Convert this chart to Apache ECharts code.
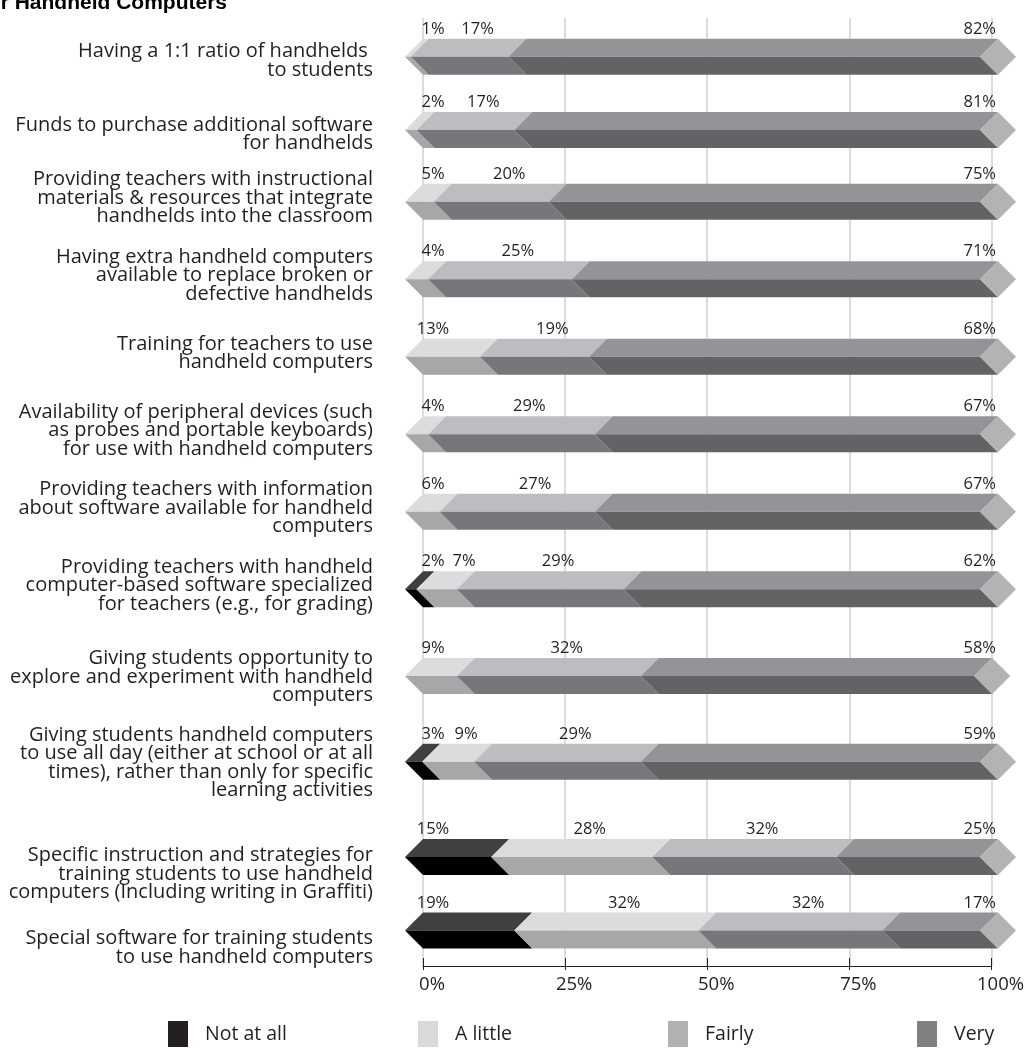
<!DOCTYPE html>
<html>
<head>
<meta charset="utf-8">
<script src="https://cdn.jsdelivr.net/npm/echarts@6/dist/echarts.min.js"></script>
<style>
  html, body { margin: 0; padding: 0; background: #ffffff; overflow: hidden; }
  #chart { width: 1027px; height: 1048px; }
</style>
</head>
<body>
<div id="chart"></div>
<script>
// Survey items (row labels, top to bottom)
const categories = [
  "Having a 1:1 ratio of handhelds \nto students",
  "Funds to purchase additional software\nfor handhelds",
  "Providing teachers with instructional\nmaterials & resources that integrate\nhandhelds into the classroom",
  "Having extra handheld computers\navailable to replace broken or\ndefective handhelds",
  "Training for teachers to use\nhandheld computers",
  "Availability of peripheral devices (such\nas probes and portable keyboards)\nfor use with handheld computers",
  "Providing teachers with information\nabout software available for handheld\ncomputers",
  "Providing teachers with handheld\ncomputer-based software specialized\nfor teachers (e.g., for grading)",
  "Giving students opportunity to\nexplore and experiment with handheld\ncomputers",
  "Giving students handheld computers\nto use all day (either at school or at all\ntimes), rather than only for specific\nlearning activities",
  "Specific instruction and strategies for\ntraining students to use handheld\ncomputers (Including writing in Graffiti)",
  "Special software for training students\nto use handheld computers"
];

// Response shares in percent, one array per answer
const notAtAll = [0, 0, 0, 0, 0, 0, 0, 2, 0, 3, 15, 19];
const aLittle  = [1, 2, 5, 4, 13, 4, 6, 7, 9, 9, 28, 32];
const fairly   = [17, 17, 20, 25, 19, 29, 27, 29, 32, 29, 32, 32];
const very     = [82, 81, 75, 71, 68, 67, 67, 62, 58, 59, 25, 17];

const seriesNames = ["Not at all", "A little", "Fairly", "Very"];
const axisTicks = [0, 25, 50, 75, 100];

const groups = [notAtAll, aLittle, fairly, very];

// Shaded two-tone fills (upper face / lower face) and legend swatches
const TOP_FILL = ["#404041", "#dcdcde", "#bcbdc0", "#939497"];
const BOT_FILL = ["#000000", "#a7a7aa", "#77777b", "#636366"];
const SWATCH   = ["#231f20", "#d9d9d9", "#b1b1b1", "#808083"];
const CAP_FILL = "#b3b3b4";
const TEXT_COLOR = "#231f20";
const FONT = "'Open Sans', 'Noto Sans', sans-serif";
const VALUE_FONT_SIZE = 16.5;
const BAR_HALF = 18;     // half height of a bar, px
const SLANT = 18;        // horizontal depth of the chevron joints, px

// Row blocks: each block is its own grid band so the item spacing can vary;
// labelShift nudges the item text down (+) or up (-) within its band
const blocks = [
  { first: 0,  count: 2, top: 20.1,  band: 73.3, labelShift: 4 },
  { first: 2,  count: 6, top: 163.0, band: 77.5, labelShift: -3.5 },
  { first: 8,  count: 2, top: 633.2, band: 85.7, labelShift: 1 },
  { first: 10, count: 2, top: 820.3, band: 73.5, labelShift: 17 }
];

const measureCtx = document.createElement("canvas").getContext("2d");
function textWidth(t) {
  measureCtx.font = VALUE_FONT_SIZE + "px " + FONT;
  return measureCtx.measureText(t).width;
}

// Position of each percentage label above a row
function rowLabels(row, localRow, api) {
  const segs = [];
  let acc = 0;
  groups.forEach((g, k) => {
    const v = g[row];
    if (v > 0) segs.push({ k, s: acc, e: acc + v, v });
    acc += v;
  });
  const out = {};
  let prevRight = -Infinity;
  const axisEnd = api.coord([axisTicks[axisTicks.length - 1], localRow])[0];
  segs.forEach((sg, j) => {
    const text = sg.v + "%";
    const w = textWidth(text);
    const xs = api.coord([sg.s, localRow])[0];
    const xe = api.coord([sg.e, localRow])[0];
    let cx;
    if (j === segs.length - 1 && j > 0) {
      cx = axisEnd - 2 - w / 2;
    } else if (j === 0) {
      cx = xs + 10;
    } else {
      cx = (xs + xe) / 2;
      if (cx - w / 2 < prevRight + 8) cx = prevRight + 8 + w / 2;
    }
    prevRight = cx + w / 2;
    out[sg.k] = { cx, text };
  });
  return out;
}

function segmentRenderer(k, first) {
  return function (params, api) {
    const localRow = api.value(0);
    const s = api.value(1);
    const e = api.value(2);
    const v = api.value(3);
    if (!v) return;
    const mid = api.coord([0, localRow])[1];
    const top = mid - BAR_HALF, bot = mid + BAR_HALF;
    const xs = api.coord([s, localRow])[0];
    const xe = api.coord([e, localRow])[0];
    const d = SLANT;
    const lb = rowLabels(first + localRow, localRow, api)[k];
    return {
      type: "group",
      children: [
        {
          type: "polygon",
          shape: { points: [[xs, top], [xe, top], [xe - d, mid], [xs - d, mid]] },
          style: { fill: TOP_FILL[k] }
        },
        {
          type: "polygon",
          shape: { points: [[xs - d, mid], [xe - d, mid], [xe, bot], [xs, bot]] },
          style: { fill: BOT_FILL[k] }
        },
        {
          type: "text",
          style: {
            text: lb.text, x: lb.cx, y: top - 1,
            align: "center", verticalAlign: "bottom",
            fontSize: VALUE_FONT_SIZE, fontFamily: FONT, fill: TEXT_COLOR
          }
        }
      ]
    };
  };
}

function capRenderer(params, api) {
  const localRow = api.value(0);
  const total = api.value(1);
  const p = api.coord([total, localRow]);
  const x = p[0], mid = p[1];
  const d = SLANT;
  return {
    type: "polygon",
    shape: { points: [[x - d, mid], [x, mid - BAR_HALF], [x + d, mid], [x, mid + BAR_HALF]] },
    style: { fill: CAP_FILL }
  };
}

// Shift a centred multi-line label by adding a spacer line above or below it
function shiftedLabel(shift) {
  return function (value) {
    if (shift > 0) return "{gap| }\n" + value;
    if (shift < 0) return value + "\n{gap| }";
    return value;
  };
}

const grids = [];
const xAxes = [];
const yAxes = [];
const series = [];

blocks.forEach((b, bi) => {
  grids.push({ left: 423, right: 29, top: b.top, height: b.count * b.band });
  xAxes.push({
    gridIndex: bi, type: "value",
    min: axisTicks[0], max: axisTicks[axisTicks.length - 1], interval: 25,
    show: false
  });
  const gapH = Math.abs(b.labelShift) * 2;
  yAxes.push({
    gridIndex: bi,
    type: "category",
    data: categories.slice(b.first, b.first + b.count),
    inverse: true,
    axisLine: { show: false },
    axisTick: { show: false },
    splitLine: { show: false },
    axisLabel: {
      interval: 0,
      fontSize: 20,
      lineHeight: 18.5,
      color: TEXT_COLOR,
      fontFamily: FONT,
      align: "right",
      margin: 50,
      formatter: shiftedLabel(b.labelShift),
      rich: {
        gap: { fontSize: 1, lineHeight: gapH, height: gapH }
      }
    }
  });
  groups.forEach((g, k) => {
    const data = [];
    for (let r = 0; r < b.count; r++) {
      const i = b.first + r;
      let start = 0;
      for (let j = 0; j < k; j++) start += groups[j][i];
      data.push([r, start, start + g[i], g[i]]);
    }
    series.push({
      name: seriesNames[k],
      type: "custom",
      xAxisIndex: bi,
      yAxisIndex: bi,
      renderItem: segmentRenderer(k, b.first),
      itemStyle: { color: SWATCH[k] },
      encode: { x: [1, 2], y: 0 },
      data: data,
      z: 3
    });
  });
  const capData = [];
  for (let r = 0; r < b.count; r++) {
    const i = b.first + r;
    capData.push([r, groups.reduce((a, g) => a + g[i], 0)]);
  }
  series.push({
    name: "cap",
    type: "custom",
    xAxisIndex: bi,
    yAxisIndex: bi,
    renderItem: capRenderer,
    encode: { x: 1, y: 0 },
    data: capData,
    z: 3
  });
});

// Full-height frame carrying the percentage axis and its grid lines
const frameIndex = grids.length;
grids.push({ left: 423, right: 29, top: 18, bottom: 82 });
xAxes.push({
  gridIndex: frameIndex,
  type: "value",
  min: axisTicks[0],
  max: axisTicks[axisTicks.length - 1],
  interval: 25,
  position: "bottom",
  axisLine: { show: true, lineStyle: { color: TEXT_COLOR, width: 1 } },
  axisTick: { show: true, length: 4, lineStyle: { color: TEXT_COLOR, width: 1 } },
  splitLine: { show: true, lineStyle: { color: "#dcdcdc", width: 2 } },
  axisLabel: {
    formatter: "{value}%",
    fontSize: 18.5,
    color: TEXT_COLOR,
    fontFamily: FONT,
    margin: 9,
    padding: [0, 0, 0, 18]
  }
});
xAxes.push({
  gridIndex: frameIndex,
  type: "value",
  min: axisTicks[0],
  max: axisTicks[axisTicks.length - 1],
  interval: 25,
  position: "bottom",
  axisLine: { show: false },
  axisTick: { show: true, inside: true, length: 8, lineStyle: { color: TEXT_COLOR, width: 1 } },
  splitLine: { show: false },
  axisLabel: { show: false }
});
yAxes.push({ gridIndex: frameIndex, type: "value", show: false });

const legendLeft = [168, 418, 668, 917];

const option = {
  animation: false,
  textStyle: { fontFamily: FONT },
  graphic: [
    {
      type: "text",
      x: 227,
      y: 14,
      style: {
        text: "Perceived Importance of Supports for Handheld Computers",
        align: "right",
        verticalAlign: "bottom",
        font: "bold 21px 'Liberation Sans', Arial, sans-serif",
        fill: "#000000"
      }
    }
  ],
  grid: grids,
  xAxis: xAxes,
  yAxis: yAxes,
  legend: seriesNames.map((n, i) => ({
    data: [n],
    left: legendLeft[i],
    top: 1021,
    padding: 0,
    icon: "rect",
    itemWidth: 20,
    itemHeight: 26,
    selectedMode: false,
    textStyle: { fontSize: 19.5, color: TEXT_COLOR, fontFamily: FONT, padding: [0, 0, 0, 12] }
  })),
  series: series
};

const chart = echarts.init(document.getElementById("chart"), null, { renderer: "canvas" });
chart.setOption(option);
</script>
</body>
</html>
